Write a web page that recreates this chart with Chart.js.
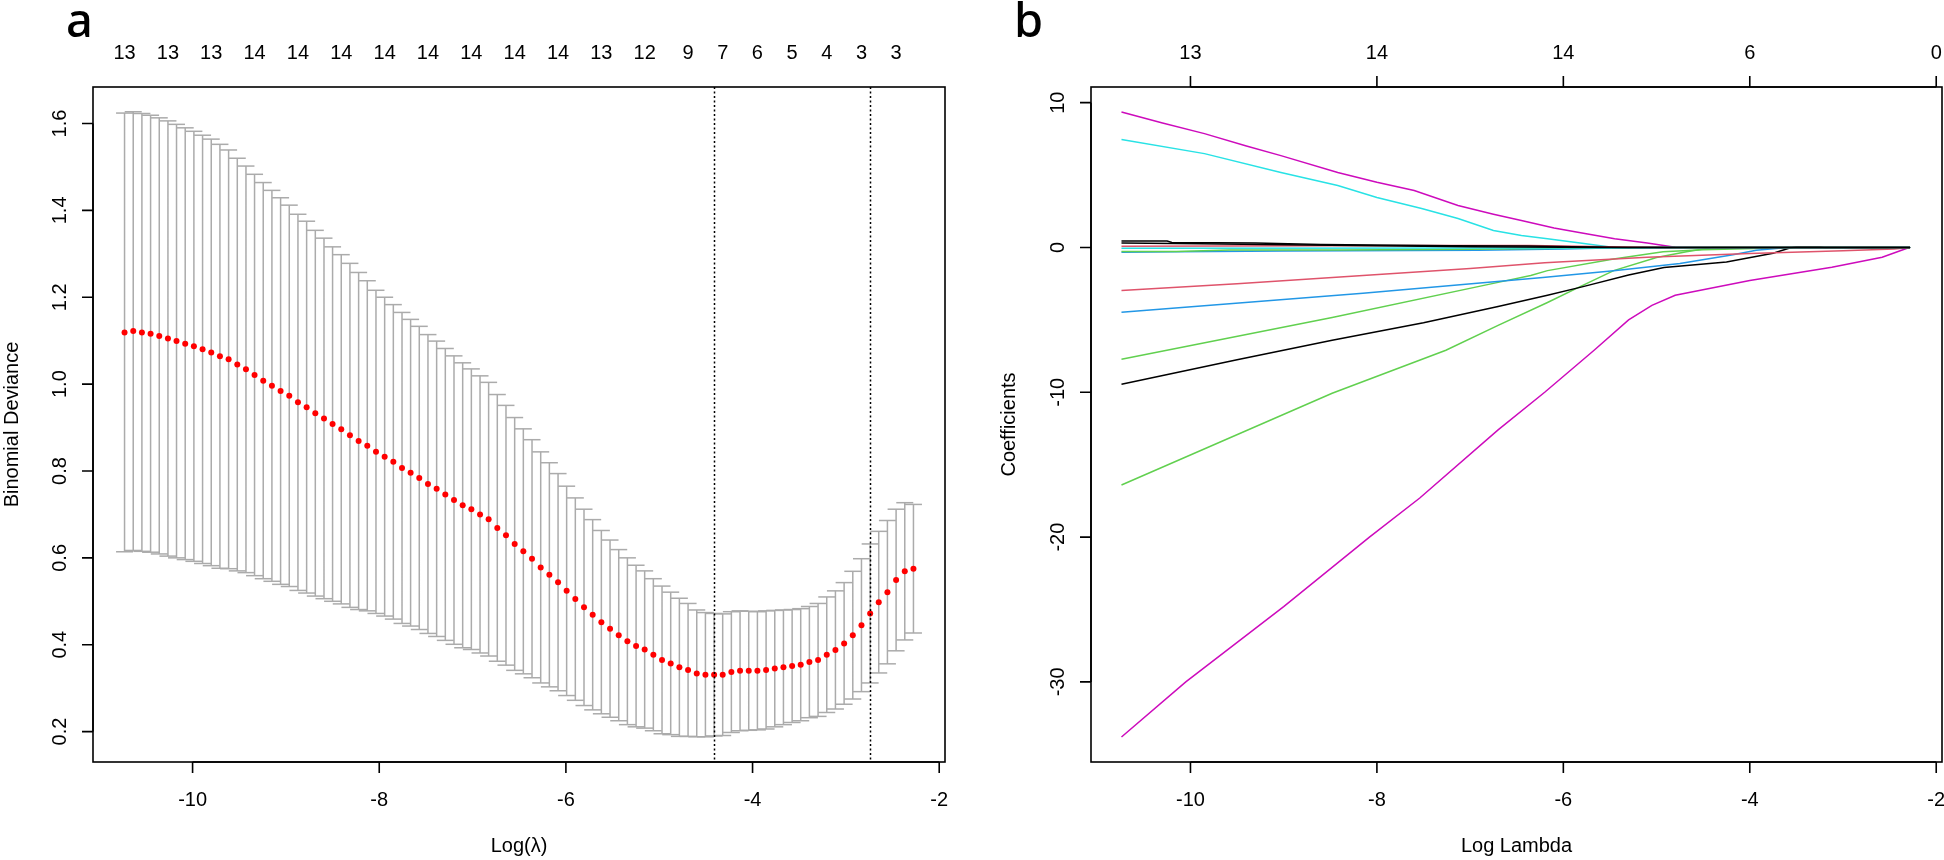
<!DOCTYPE html>
<html>
<head>
<meta charset="utf-8">
<script src="https://cdn.jsdelivr.net/npm/chart.js@4.4.0/dist/chart.umd.min.js"></script>
<style>
html, body { margin: 0; padding: 0; background: #fff; }
#wrap { position: relative; width: 1944px; height: 860px; overflow: hidden; background: #fff; }
canvas { position: absolute; top: 0; }
</style>
</head>
<body>
<div id="wrap">
  <canvas id="cvA" width="980" height="860" style="left:0px"></canvas>
  <canvas id="cvB" width="964" height="860" style="left:980px"></canvas>
</div>
<script>
// ---- panel a: cross-validation curve ----
const logLam = [-10.729, -10.636, -10.543, -10.450, -10.357, -10.264, -10.172, -10.079, -9.986, -9.893,
  -9.800, -9.707, -9.614, -9.521, -9.428, -9.336, -9.243, -9.150, -9.057, -8.964,
  -8.871, -8.778, -8.685, -8.592, -8.500, -8.407, -8.314, -8.221, -8.128, -8.035,
  -7.942, -7.849, -7.756, -7.664, -7.571, -7.478, -7.385, -7.292, -7.199, -7.106,
  -7.013, -6.920, -6.828, -6.735, -6.642, -6.549, -6.456, -6.363, -6.270, -6.177,
  -6.084, -5.992, -5.899, -5.806, -5.713, -5.620, -5.527, -5.434, -5.341, -5.248,
  -5.156, -5.063, -4.970, -4.877, -4.784, -4.691, -4.598, -4.505, -4.412, -4.320,
  -4.227, -4.134, -4.041, -3.948, -3.855, -3.762, -3.669, -3.576, -3.484, -3.391,
  -3.298, -3.205, -3.112, -3.019, -2.926, -2.833, -2.740, -2.648, -2.555, -2.462,
  -2.369, -2.276];

const cvMean = [1.119, 1.122, 1.119, 1.116, 1.111, 1.105, 1.099, 1.093, 1.087, 1.080,
  1.073, 1.064, 1.057, 1.045, 1.034, 1.021, 1.008, 0.996, 0.984, 0.973,
  0.958, 0.947, 0.933, 0.921, 0.908, 0.896, 0.882, 0.869, 0.858, 0.844,
  0.833, 0.821, 0.807, 0.796, 0.784, 0.770, 0.759, 0.746, 0.733, 0.721,
  0.712, 0.700, 0.689, 0.669, 0.652, 0.632, 0.615, 0.598, 0.578, 0.561,
  0.544, 0.524, 0.505, 0.486, 0.469, 0.452, 0.437, 0.422, 0.408, 0.397,
  0.389, 0.377, 0.365, 0.357, 0.348, 0.342, 0.334, 0.331, 0.331, 0.331,
  0.337, 0.340, 0.340, 0.340, 0.342, 0.345, 0.348, 0.351, 0.354, 0.360,
  0.365, 0.377, 0.388, 0.403, 0.422, 0.445, 0.472, 0.498, 0.521, 0.549,
  0.569, 0.575];

const cvUpper = [1.624, 1.627, 1.623, 1.619, 1.613, 1.606, 1.598, 1.590, 1.582, 1.573,
  1.564, 1.552, 1.539, 1.520, 1.502, 1.483, 1.464, 1.446, 1.429, 1.412,
  1.391, 1.375, 1.354, 1.336, 1.316, 1.298, 1.278, 1.257, 1.238, 1.216,
  1.200, 1.183, 1.165, 1.149, 1.133, 1.114, 1.099, 1.082, 1.065, 1.049,
  1.035, 1.019, 1.004, 0.976, 0.951, 0.923, 0.897, 0.872, 0.844, 0.819,
  0.794, 0.765, 0.738, 0.712, 0.688, 0.663, 0.641, 0.619, 0.600, 0.583,
  0.570, 0.552, 0.535, 0.521, 0.507, 0.495, 0.480, 0.474, 0.472, 0.471,
  0.476, 0.478, 0.477, 0.476, 0.478, 0.479, 0.480, 0.481, 0.483, 0.488,
  0.495, 0.510, 0.524, 0.543, 0.569, 0.598, 0.632, 0.661, 0.686, 0.712,
  0.727, 0.723];

const cvLower = [0.614, 0.617, 0.615, 0.613, 0.609, 0.604, 0.600, 0.596, 0.592, 0.587,
  0.582, 0.576, 0.575, 0.570, 0.566, 0.559, 0.552, 0.546, 0.539, 0.534,
  0.525, 0.519, 0.512, 0.506, 0.500, 0.494, 0.486, 0.481, 0.478, 0.472,
  0.466, 0.459, 0.449, 0.443, 0.435, 0.426, 0.419, 0.410, 0.401, 0.393,
  0.389, 0.381, 0.374, 0.362, 0.353, 0.341, 0.333, 0.324, 0.312, 0.303,
  0.294, 0.283, 0.272, 0.260, 0.250, 0.241, 0.233, 0.225, 0.216, 0.211,
  0.208, 0.202, 0.195, 0.193, 0.189, 0.189, 0.188, 0.188, 0.190, 0.191,
  0.198, 0.202, 0.203, 0.204, 0.206, 0.211, 0.216, 0.221, 0.225, 0.232,
  0.235, 0.244, 0.252, 0.263, 0.275, 0.292, 0.312, 0.335, 0.356, 0.386,
  0.411, 0.427];

const lamMin = -4.412;
const lam1se = -2.740;

// number of nonzero coefficients printed along the top of panel a
const nzPosA = [-10.729, -10.264, -9.800, -9.336, -8.871, -8.407, -7.942, -7.478, -7.013, -6.549,
  -6.084, -5.620, -5.156, -4.691, -4.320, -3.948, -3.576, -3.205, -2.833, -2.462];
const nzA = ['13', '13', '13', '14', '14', '14', '14', '14', '14', '14',
  '14', '13', '12', '9', '7', '6', '5', '4', '3', '3'];

const xTicks = [-10, -8, -6, -4, -2];
const yTicksA = [0.2, 0.4, 0.6, 0.8, 1.0, 1.2, 1.4, 1.6];

// ---- panel b: coefficient paths [log lambda, coefficient] ----
const pathMagentaUp = [[-10.74, 9.35], [-10.3, 8.6], [-9.85, 7.86], [-9.4, 7.0], [-9.03, 6.34], [-8.42, 5.17],
  [-8.0, 4.5], [-7.6, 3.93], [-7.13, 2.9], [-6.75, 2.3], [-6.45, 1.86], [-6.1, 1.35], [-5.8, 1.0],
  [-5.45, 0.6], [-5.1, 0.3], [-4.8, 0.02], [-2.28, 0]];
const pathCyanUp = [[-10.74, 7.45], [-9.85, 6.48], [-9.03, 5.17], [-8.42, 4.28], [-8.0, 3.45], [-7.52, 2.69],
  [-7.13, 2.0], [-6.75, 1.17], [-6.45, 0.83], [-6.17, 0.6], [-5.82, 0.3], [-5.5, 0.03], [-2.28, 0]];
const pathBlackTop1 = [[-10.74, 0.45], [-10.25, 0.45], [-10.2, 0.35], [-9.3, 0.3], [-8.6, 0.2], [-7.2, 0.12],
  [-6.4, 0.1], [-5.9, 0.05], [-5.3, 0], [-2.28, 0]];
const pathBlackTop2 = [[-10.74, 0.3], [-9.9, 0.25], [-8.5, 0.15], [-7.0, 0.05], [-6.0, 0.02], [-5.5, 0], [-2.28, 0]];
const pathRedTop = [[-10.74, 0.08], [-7.47, 0.14], [-6.36, 0.14], [-5.5, 0.05], [-4.9, 0], [-2.28, 0]];
const pathCyanZero = [[-10.74, -0.05], [-6.0, -0.03], [-2.28, 0]];
const pathGreenTop = [[-10.74, -0.28], [-10.15, -0.28], [-9.58, -0.18], [-8.39, -0.18], [-7.0, -0.12],
  [-6.0, -0.05], [-5.5, 0], [-2.28, 0]];
const pathBlueTop = [[-10.74, -0.33], [-10.15, -0.3], [-9.0, -0.25], [-6.92, -0.2], [-6.0, -0.1], [-5.3, 0], [-2.28, 0]];
const pathRedLow = [[-10.74, -2.97], [-9.5, -2.5], [-8.15, -1.93], [-7.0, -1.45], [-6.2, -1.05], [-5.1, -0.68],
  [-4.0, -0.42], [-3.0, -0.22], [-2.45, -0.1], [-2.28, 0]];
const pathBlueLow = [[-10.74, -4.48], [-8.15, -3.17], [-6.22, -2.07], [-5.46, -1.6], [-4.75, -1.1],
  [-4.18, -0.5], [-3.93, -0.2], [-3.6, 0], [-2.28, 0]];
const pathGreenMid = [[-10.74, -7.72], [-8.48, -4.83], [-6.7, -2.41], [-6.35, -1.93], [-6.17, -1.6],
  [-5.46, -0.8], [-4.93, -0.3], [-4.5, -0.15], [-3.5, 0], [-2.28, 0]];
const pathBlackLow = [[-10.74, -9.45], [-9.5, -7.75], [-8.48, -6.41], [-7.5, -5.2], [-6.7, -4.07], [-6.17, -3.3],
  [-5.81, -2.74], [-5.3, -1.9], [-4.92, -1.38], [-4.25, -1.01], [-3.75, -0.4], [-3.58, -0.05],
  [-3.5, 0.05], [-3.25, 0.05], [-3.2, 0], [-2.28, 0]];
const pathGreenLow = [[-10.74, -16.4], [-8.48, -10.07], [-7.26, -7.1], [-6.7, -5.38], [-6.17, -3.8],
  [-5.82, -2.7], [-5.46, -1.6], [-5.0, -0.7], [-4.68, -0.3], [-4.4, 0], [-2.28, 0]];
const pathMagentaLow = [[-10.74, -33.8], [-10.05, -30], [-9.0, -24.8], [-8.08, -20], [-7.54, -17.3],
  [-6.7, -12.6], [-6.2, -10.0], [-5.67, -7.1], [-5.3, -5.0], [-5.05, -4.0], [-4.8, -3.3],
  [-4.0, -2.28], [-3.12, -1.36], [-2.58, -0.67], [-2.29, 0]];

const yTicksB = [-30, -20, -10, 0, 10];
const nzB = ['13', '14', '14', '6', '0'];

// R default palette colours
const RCOL = { black: '#000000', red: '#DF536B', green: '#61D04F', blue: '#2297E6', cyan: '#28E2E5', magenta: '#CD0BBC' };
const FONT = '"Liberation Sans", Arial, sans-serif';

// draws R style box, axes, labels
const rAxes = {
  id: 'rAxes',
  afterDatasetsDraw(chart, args, o) {
    const ctx = chart.ctx;
    const a = chart.chartArea;
    const x = chart.scales.x, y = chart.scales.y;
    ctx.save();
    ctx.strokeStyle = '#000';
    ctx.fillStyle = '#000';

    // dotted lambda lines
    (o.vlines || []).forEach(v => {
      const px = Math.round(x.getPixelForValue(v)) + 0.5;
      ctx.lineWidth = 1.5;
      ctx.setLineDash([2, 2.5]);
      ctx.beginPath();
      ctx.moveTo(px, a.top);
      ctx.lineTo(px, a.bottom);
      ctx.stroke();
    });
    ctx.setLineDash([]);

    ctx.lineWidth = 1.6;
    ctx.strokeRect(a.left, a.top, a.right - a.left, a.bottom - a.top);

    const tl = 11;
    // bottom axis
    ctx.beginPath();
    ctx.moveTo(x.getPixelForValue(o.xTicks[0]), a.bottom);
    ctx.lineTo(x.getPixelForValue(o.xTicks[o.xTicks.length - 1]), a.bottom);
    o.xTicks.forEach(t => {
      const px = x.getPixelForValue(t);
      ctx.moveTo(px, a.bottom);
      ctx.lineTo(px, a.bottom + tl);
    });
    ctx.stroke();
    ctx.font = '20px ' + FONT;
    ctx.textAlign = 'center';
    ctx.textBaseline = 'alphabetic';
    o.xTicks.forEach(t => {
      ctx.fillText(String(t), x.getPixelForValue(t), a.bottom + 44);
    });

    // left axis
    ctx.beginPath();
    ctx.moveTo(a.left, y.getPixelForValue(o.yTicks[0]));
    ctx.lineTo(a.left, y.getPixelForValue(o.yTicks[o.yTicks.length - 1]));
    o.yTicks.forEach(t => {
      const py = y.getPixelForValue(t);
      ctx.moveTo(a.left, py);
      ctx.lineTo(a.left - tl, py);
    });
    ctx.stroke();
    o.yTicks.forEach(t => {
      const py = y.getPixelForValue(t);
      ctx.save();
      ctx.translate(a.left - 27, py);
      ctx.rotate(-Math.PI / 2);
      ctx.fillText(o.yFmt(t), 0, 0);
      ctx.restore();
    });

    // top axis (df labels)
    if (o.topTicks) {
      ctx.beginPath();
      ctx.moveTo(x.getPixelForValue(o.topPos[0]), a.top);
      ctx.lineTo(x.getPixelForValue(o.topPos[o.topPos.length - 1]), a.top);
      o.topPos.forEach(t => {
        const px = x.getPixelForValue(t);
        ctx.moveTo(px, a.top);
        ctx.lineTo(px, a.top - tl);
      });
      ctx.stroke();
    }
    o.topPos.forEach((t, i) => {
      ctx.fillText(o.topLabels[i], x.getPixelForValue(t), 59);
    });

    // titles
    ctx.fillText(o.xTitle, (a.left + a.right) / 2, 852);
    ctx.save();
    ctx.translate(o.yTitleX, (a.top + a.bottom) / 2);
    ctx.rotate(-Math.PI / 2);
    ctx.fillText(o.yTitle, 0, 0);
    ctx.restore();

    // panel letter
    ctx.textAlign = 'left';
    ctx.font = '500 47px "Noto Sans", "Open Sans", sans-serif';
    ctx.fillText(o.letter, o.letterX, 37);
    ctx.restore();
  }
};

const baseOpts = {
  responsive: false,
  devicePixelRatio: 1,
  animation: false,
  events: [],
  plugins: { legend: { display: false }, tooltip: { enabled: false } }
};

// ---- chart a ----
const barPts = [];
logLam.forEach((lx, i) => {
  barPts.push({ x: lx, y: cvLower[i] }, { x: lx, y: cvUpper[i] }, { x: lx, y: null });
});
const GREY = '#ABABAB';

new Chart(document.getElementById('cvA'), {
  type: 'scatter',
  data: {
    datasets: [{
      data: logLam.map((lx, i) => ({ x: lx, y: cvMean[i] })),
      pointRadius: 3,
      pointBackgroundColor: '#FF0000',
      pointBorderColor: '#FF0000',
      pointBorderWidth: 0,
      order: 0
    }, {
      data: logLam.map((lx, i) => ({ x: lx, y: cvUpper[i] })),
      pointStyle: 'line',
      pointRadius: 8.5,
      pointBorderColor: GREY,
      pointBorderWidth: 1.5,
      order: 1
    }, {
      data: logLam.map((lx, i) => ({ x: lx, y: cvLower[i] })),
      pointStyle: 'line',
      pointRadius: 8.5,
      pointBorderColor: GREY,
      pointBorderWidth: 1.5,
      order: 1
    }, {
      data: barPts,
      showLine: true,
      spanGaps: false,
      borderColor: GREY,
      borderWidth: 1.5,
      pointRadius: 0,
      order: 2
    }]
  },
  options: Object.assign({}, baseOpts, {
    layout: { padding: { left: 93, top: 87, right: 35, bottom: 98 } },
    scales: {
      x: { type: 'linear', min: -11.067, max: -1.938, display: false },
      y: { type: 'linear', min: 0.130, max: 1.684, display: false }
    },
    plugins: Object.assign({}, baseOpts.plugins, {
      rAxes: {
        xTicks: xTicks, yTicks: yTicksA, yFmt: t => t.toFixed(1),
        topPos: nzPosA, topLabels: nzA, topTicks: false,
        xTitle: 'Log(\u03BB)', yTitle: 'Binomial Deviance', yTitleX: 18,
        vlines: [lamMin, lam1se], letter: 'a', letterX: 66
      }
    })
  }),
  plugins: [rAxes]
});

// ---- chart b ----
const paths = [
  [pathBlackTop1, RCOL.black], [pathBlackTop2, RCOL.black], [pathRedTop, RCOL.red],
  [pathCyanZero, RCOL.cyan], [pathGreenTop, RCOL.green], [pathBlueTop, RCOL.blue],
  [pathRedLow, RCOL.red], [pathBlueLow, RCOL.blue], [pathGreenMid, RCOL.green],
  [pathBlackLow, RCOL.black], [pathGreenLow, RCOL.green], [pathCyanUp, RCOL.cyan],
  [pathMagentaUp, RCOL.magenta], [pathMagentaLow, RCOL.magenta]
];

new Chart(document.getElementById('cvB'), {
  type: 'line',
  data: {
    datasets: paths.map(p => ({
      data: p[0].map(q => ({ x: q[0], y: q[1] })),
      borderColor: p[1],
      borderWidth: 1.5,
      pointRadius: 0,
      tension: 0,
      fill: false
    }))
  },
  options: Object.assign({}, baseOpts, {
    layout: { padding: { left: 111, top: 87, right: 2, bottom: 98 } },
    scales: {
      x: { type: 'linear', min: -11.067, max: -1.938, display: false },
      y: { type: 'linear', min: -35.53, max: 11.08, display: false }
    },
    plugins: Object.assign({}, baseOpts.plugins, {
      rAxes: {
        xTicks: xTicks, yTicks: yTicksB, yFmt: t => String(t),
        topPos: xTicks, topLabels: nzB, topTicks: true,
        xTitle: 'Log Lambda', yTitle: 'Coefficients', yTitleX: 35,
        vlines: [], letter: 'b', letterX: 34
      }
    })
  }),
  plugins: [rAxes]
});
</script>
</body>
</html>
